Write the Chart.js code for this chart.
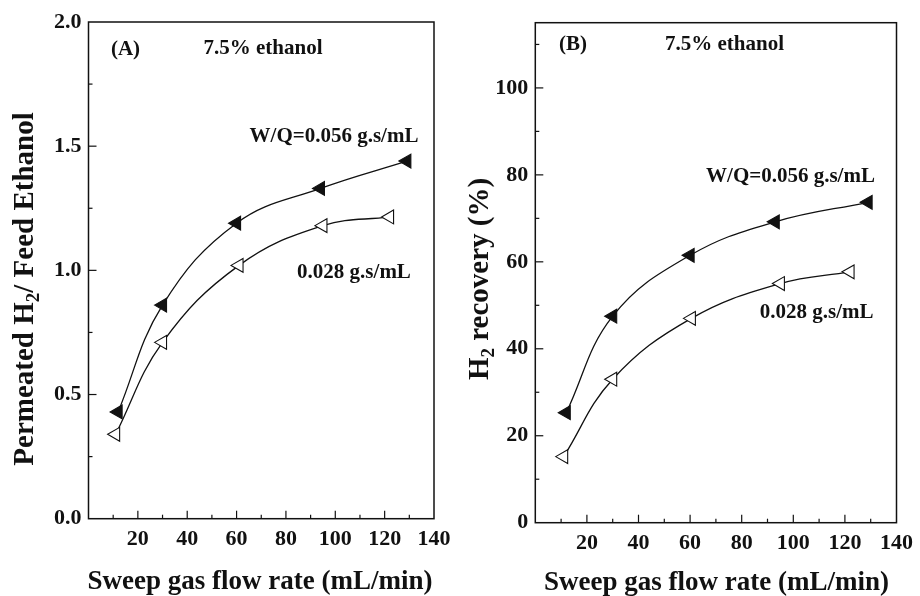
<!DOCTYPE html>
<html>
<head>
<meta charset="utf-8">
<script src="https://cdn.jsdelivr.net/npm/chart.js@4.4.1/dist/chart.umd.min.js"></script>
<style>
  html, body { margin: 0; padding: 0; background: #fff; }
  #wrap { position: relative; width: 920px; height: 596px; }
  canvas { position: absolute; top: 0; }
  #chartA { left: 0; }
  #chartB { left: 460px; }
</style>
</head>
<body>
<div id="wrap">
  <canvas id="chartA" width="460" height="596"></canvas>
  <canvas id="chartB" width="460" height="596"></canvas>
</div>
<script>
// tick labels
const xTicks = [20, 40, 60, 80, 100, 120, 140];
const yTicksA = [0, 0.5, 1.0, 1.5, 2.0];
const yTicksB = [0, 20, 40, 60, 80, 100];

// (A) permeated H2 / feed ethanol
const flowHiA = [12, 30, 60, 94, 129];
const permHi = [0.43, 0.86, 1.19, 1.33, 1.44];
const flowLoA = [11, 30, 61, 95, 122];
const permLo = [0.34, 0.71, 1.02, 1.18, 1.215];

// (B) H2 recovery (%)
const flowHiB = [12, 30, 60, 93, 129];
const recHi = [25.3, 47.5, 61.5, 69.2, 73.7];
const flowLoB = [11, 30, 60.5, 95, 122];
const recLo = [15.2, 33.0, 47.0, 55.0, 57.7];

const FONT = '"Liberation Serif", "Times New Roman", serif';
const INK = '#111';

function pts(xs, ys) {
  return xs.map((x, i) => ({ x: x, y: ys[i] }));
}

function series(xs, ys, filled) {
  return {
    data: pts(xs, ys),
    showLine: true,
    tension: 0.4,
    borderColor: INK,
    borderWidth: 1.3,
    pointStyle: 'triangle',
    rotation: -90,
    pointRadius: 8,
    pointHoverRadius: 8,
    pointBackgroundColor: filled ? INK : '#fff',
    pointBorderColor: INK,
    pointBorderWidth: 1.1
  };
}

// frame, inward ticks, annotations and axis titles
function deco(cfg) {
  return {
    id: 'deco',
    afterDraw(chart) {
      const { ctx, chartArea: a, scales } = chart;
      const sx = scales.x, sy = scales.y;
      ctx.save();
      ctx.strokeStyle = INK;
      ctx.lineWidth = 1.5;
      ctx.strokeRect(a.left, a.top, a.right - a.left, a.bottom - a.top);

      ctx.lineWidth = 1.2;
      const xs = (xTicks[1] - xTicks[0]) / 2;
      for (let v = sx.min + xs, k = 1; v < sx.max - 1e-9; v += xs, k++) {
        const p = sx.getPixelForValue(v);
        const len = k % 2 === 0 ? 8 : 4;
        ctx.beginPath();
        ctx.moveTo(p, a.bottom);
        ctx.lineTo(p, a.bottom - len);
        ctx.stroke();
      }
      const yt = cfg.yTicks;
      const ys = (yt[1] - yt[0]) / 2;
      for (let v = sy.min + ys, k = 1; v < sy.max - 1e-9; v += ys, k++) {
        const p = sy.getPixelForValue(v);
        const len = k % 2 === 0 ? 8 : 4;
        ctx.beginPath();
        ctx.moveTo(a.left, p);
        ctx.lineTo(a.left + len, p);
        ctx.stroke();
      }

      ctx.fillStyle = INK;
      ctx.textAlign = 'center';
      ctx.textBaseline = 'middle';
      ctx.font = 'bold 21px ' + FONT;
      cfg.notes.forEach(n => ctx.fillText(n[0], n[1], n[2]));

      // x title
      ctx.font = 'bold 27px ' + FONT;
      ctx.textBaseline = 'alphabetic';
      ctx.fillText('Sweep gas flow rate (mL/min)', cfg.xTitle[0], cfg.xTitle[1]);

      // y title with subscript, rotated
      ctx.save();
      ctx.translate(cfg.yTitle[0], cfg.yTitle[1]);
      ctx.rotate(-Math.PI / 2);
      ctx.textAlign = 'left';
      const big = 'bold 29px ' + FONT, small = 'bold 19px ' + FONT;
      const parts = cfg.yParts;
      let total = 0;
      parts.forEach(p => { ctx.font = p[1] ? small : big; total += ctx.measureText(p[0]).width; });
      let cx = -total / 2;
      parts.forEach(p => {
        ctx.font = p[1] ? small : big;
        ctx.fillText(p[0], cx, p[1] ? 6 : 0);
        cx += ctx.measureText(p[0]).width;
      });
      ctx.restore();
      ctx.restore();
    }
  };
}

function makeChart(id, datasets, yMin, yMax, yTicks, fmt, geo, cfg) {
  return new Chart(document.getElementById(id), {
    type: 'scatter',
    data: { datasets: datasets },
    options: {
      responsive: false,
      animation: false,
      events: [],
      layout: { padding: { top: geo.top, right: geo.right, left: 0, bottom: 0 } },
      plugins: { legend: { display: false }, tooltip: { enabled: false } },
      scales: {
        x: {
          type: 'linear', min: 0, max: 140,
          afterBuildTicks: s => { s.ticks = xTicks.map(v => ({ value: v })); },
          afterFit: s => { s.height = geo.xh; },
          grid: { display: false, drawTicks: false },
          border: { display: false },
          ticks: { padding: 7, color: INK, font: { family: FONT, size: 22, weight: 'bold' } }
        },
        y: {
          type: 'linear', min: yMin, max: yMax,
          afterBuildTicks: s => { s.ticks = yTicks.map(v => ({ value: v })); },
          afterFit: s => { s.width = geo.yw; },
          grid: { display: false, drawTicks: false },
          border: { display: false },
          ticks: { padding: 7, color: INK, callback: fmt, font: { family: FONT, size: 22, weight: 'bold' } }
        }
      }
    },
    plugins: [deco(cfg)]
  });
}

makeChart('chartA',
  [series(flowHiA, permHi, true), series(flowLoA, permLo, false)],
  0, 2, yTicksA, v => Number(v).toFixed(1),
  { top: 22, right: 26, yw: 88.5, xh: 77.3 },
  {
    yTicks: yTicksA,
    notes: [['(A)', 125.5, 50], ['7.5% ethanol', 263, 49],
            ['W/Q=0.056 g.s/mL', 334, 137], ['0.028 g.s/mL', 354, 273]],
    xTitle: [260, 589],
    yTitle: [33, 289],
    yParts: [['Permeated H', false], ['2', true], ['/ Feed Ethanol', false]]
  });

makeChart('chartB',
  [series(flowHiB, recHi, true), series(flowLoB, recLo, false)],
  0, 115, yTicksB, v => String(v),
  { top: 22.7, right: 17.3, yw: 75.3, xh: 73.3 },
  {
    yTicks: yTicksB,
    notes: [['(B)', 113, 45], ['7.5% ethanol', 264.5, 45],
            ['W/Q=0.056 g.s/mL', 330.5, 177], ['0.028 g.s/mL', 356.7, 313]],
    xTitle: [256.5, 590],
    yTitle: [28, 279],
    yParts: [['H', false], ['2', true], [' recovery (%)', false]]
  });
</script>
</body>
</html>
